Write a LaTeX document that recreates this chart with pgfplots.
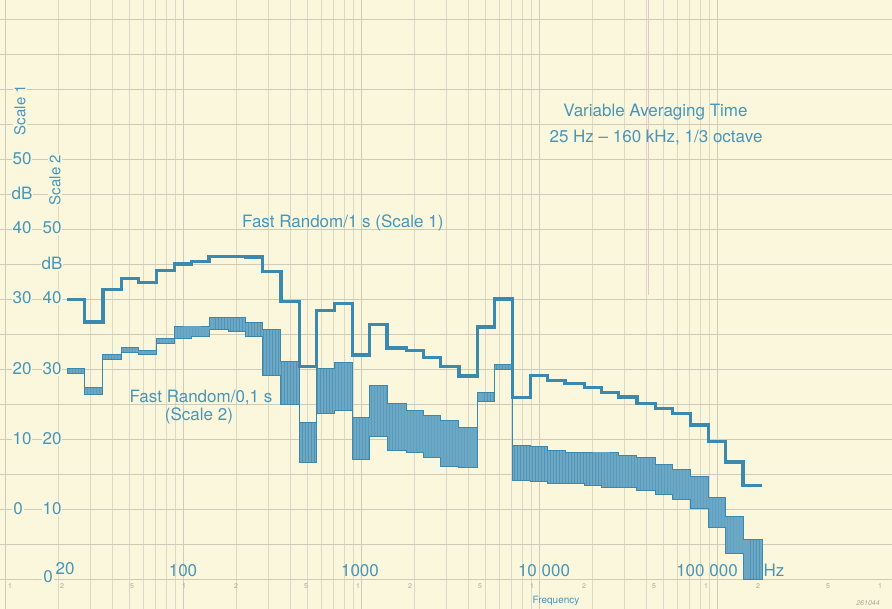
\documentclass[border=0pt]{standalone}
\usepackage{fontspec}
\setmainfont{TeX Gyre Heros}
\usepackage{pgfplots}
\pgfplotsset{compat=1.18}
\usetikzlibrary{patterns}
\definecolor{paper}{RGB}{251,247,220}
\definecolor{gridc}{RGB}{206,203,186}
\definecolor{gridm}{RGB}{219,216,199}
\definecolor{trace}{RGB}{60,137,176}
\definecolor{noise}{RGB}{106,168,198}
\definecolor{ink}{RGB}{72,150,186}
\definecolor{faint}{RGB}{170,168,150}
\definecolor{pinkline}{RGB}{238,192,210}

\begin{document}
\begin{tikzpicture}
\useasboundingbox (0,0) rectangle (892bp,609bp);
\begin{axis}[
  at={(0,0)}, anchor=south west,
  width=892bp, height=609bp, scale only axis,
  xmode=log, xmin=9.374, xmax=961900,
  ymin=-14.286, ymax=72.714,
  axis line style={draw=none},
  axis background/.style={fill=paper},
  xtick={10,100,1000,10000,100000},
  ytick={-10,-5,...,70},
  xticklabels={}, yticklabels={},
  major tick length=0pt, minor tick length=0pt,
  grid=both,
  major grid style={gridc, line width=0.45bp},
  minor grid style={gridm, line width=0.35bp},
  clip=false,
]
% Fast Random / 0,1 s (read on scale 2, drawn in scale 1 dB): band envelope
\addplot[const plot, no marks, fill=noise, draw=trace, line width=1bp,
  postaction={pattern=vertical lines, pattern color=trace!80!black, opacity=0.35}] coordinates {
(22.4,20.1)(28,17.3)(35.5,22.0)(45,23.0)(56,22.7)(71,24.4)(90,26.0)(112,26.0)
(140,27.4)(180,27.3)(224,26.7)(280,25.6)(355,21.0)(450,12.3)(560,20.1)(710,20.9)
(900,13.1)(1120,17.7)(1400,15.1)(1800,14.1)(2240,13.4)(2800,12.7)(3550,11.7)
(4500,16.7)(5600,20.6)(7100,9.1)(9000,8.9)(11200,8.4)(14000,8.1)(18000,8.0)
(22400,8.0)(28000,7.7)(35500,7.4)(45000,6.3)(56000,5.6)(71000,4.6)(90000,1.7)
(112000,-1.1)(140000,-4.4)(180000,-4.4)
(180000,-10.1)(140000,-6.3)(112000,-2.6)(90000,0.1)(71000,1.3)(56000,2.0)
(45000,2.7)(35500,3.1)(28000,3.1)(22400,3.4)(18000,3.7)(14000,3.7)(11200,3.9)
(9000,4.1)(7100,19.9)(5600,15.3)(4500,5.9)(3550,6.1)(2800,7.4)(2240,8.0)
(1800,8.4)(1400,10.3)(1120,7.0)(900,14.1)(710,13.7)(560,6.6)(450,14.9)(355,19.1)
(280,24.6)(224,25.3)(180,25.6)(140,24.6)(112,24.4)(90,23.7)(71,22.1)(56,22.4)
(45,21.3)(35.5,16.4)(28,19.4)(22.4,19.4)(22.4,20.1)
};
% Fast Random / 1 s (scale 1)
\addplot[const plot, no marks, draw=trace, line width=3.2bp] coordinates {
(22.4,29.9)(28,26.7)(35.5,31.4)(45,32.9)(56,32.3)(71,34.1)(90,35.0)(112,35.3)
(140,36.1)(180,36.1)(224,36.0)(280,33.9)(355,29.6)(450,20.3)(560,28.3)(710,29.4)
(900,22.0)(1120,26.4)(1400,23.0)(1800,22.6)(2240,21.6)(2800,20.3)(3550,19.0)
(4500,26.0)(5600,30.0)(7100,15.9)(9000,19.1)(11200,18.3)(14000,17.9)(18000,17.3)
(22400,16.6)(28000,16.0)(35500,15.1)(45000,14.4)(56000,13.6)(71000,12.0)
(90000,9.6)(112000,6.7)(140000,3.4)(180000,3.4)
};
\end{axis}
\begin{scope}[x=1bp, y=-1bp, yshift=609bp,
  lab/.style={text=ink, font=\fontsize{17bp}{20bp}\selectfont, inner sep=0pt},
  sc/.style={lab, anchor=base, fill=paper, inner sep=1bp},
  tiny/.style={text=faint, font=\fontsize{7bp}{8bp}\selectfont, anchor=base, inner sep=0pt}]
\draw[pinkline, line width=0.8bp] (648,0) -- (648,295);
\node[lab, anchor=base] at (655.5,117) {Variable Averaging Time};
\node[lab, anchor=base] at (656,143) {25 Hz -- 160 kHz, 1/3 octave};
\node[lab, anchor=base west] at (242,228) {Fast Random/1 s (Scale 1)};
\node[lab, anchor=base] at (201,403) {Fast Random/0,1 s};
\node[lab, anchor=base] at (199,421) {(Scale 2)};
% scale 1
\node[sc] at (22,165) {50};
\node[sc] at (22,200) {dB};
\node[sc] at (22,234) {40};
\node[sc] at (22,304) {30};
\node[sc] at (22,375) {20};
\node[sc] at (22,445) {10};
\node[sc] at (18,515) {0};
% scale 2
\node[sc] at (52,234) {50};
\node[sc] at (52,270) {dB};
\node[sc] at (52,304) {40};
\node[sc] at (52,375) {30};
\node[sc] at (52,445) {20};
\node[sc] at (52,515) {10};
\node[sc] at (48,583) {0};
\node[lab, font=\fontsize{15bp}{18bp}\selectfont, rotate=90, fill=paper, inner sep=1bp] at (20,110) {Scale 1};
\node[lab, font=\fontsize{15bp}{18bp}\selectfont, rotate=90, fill=paper, inner sep=1bp] at (55,180) {Scale 2};
% frequency axis
\node[lab, anchor=base] at (65,575) {20};
\node[lab, anchor=base] at (183,577) {100};
\node[lab, anchor=base] at (360,577) {1000};
\node[lab, anchor=base] at (544,577) {10 000};
\node[lab, anchor=base] at (707,577) {100 000};
\node[lab, anchor=base] at (774,577) {Hz};
\node[lab, anchor=base, font=\fontsize{10bp}{12bp}\selectfont] at (556,604) {Frequency};
\node[tiny, font=\fontsize{7bp}{8bp}\selectfont\itshape] at (868,606) {261044};
\foreach \p/\t in {10/1,62/2,132/5,184/1,236/2,306/5,358/1,410/2,480/5,532/1,584/2,654/5,706/1,758/2,828/5,880/1}
  \node[tiny] at (\p,589) {\t};
\end{scope}
\end{tikzpicture}
\end{document}
